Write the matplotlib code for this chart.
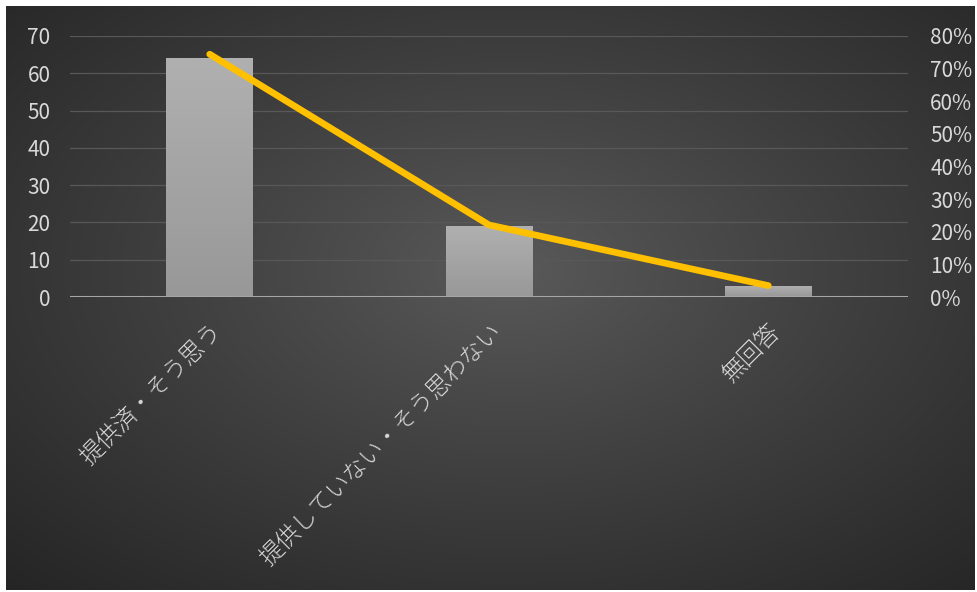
import numpy as np
import matplotlib
matplotlib.use("Agg")
import matplotlib.pyplot as plt

plt.rcParams['font.family'] = ['Noto Sans CJK JP', 'DejaVu Sans']

categories = ["提供済・そう思う", "提供していない・そう思わない", "無回答"]
counts = [64, 19, 3]
shares = [c / sum(counts) for c in counts]

left_ticks = list(range(0, 71, 10))
right_ticks = [i / 10 for i in range(0, 9)]

text_color = "#d9d9d9"
line_color = "#FFC000"

fig = plt.figure(figsize=(9.77, 5.92), dpi=100, facecolor="white")

# dark radial backdrop for the chart area
bg = fig.add_axes([6 / 977, 2 / 592, 969 / 977, 584 / 592])
bg.set_axis_off()
ny, nx = 300, 500
yy, xx = np.mgrid[0:ny, 0:nx]
cx, cy = 0.52 * nx, 0.45 * ny
r = np.sqrt(((xx - cx) / nx) ** 2 + ((yy - cy) / ny) ** 2)
r = r / r.max()
inner = np.array([0x5a, 0x5a, 0x5a]) / 255
outer = np.array([0x25, 0x25, 0x25]) / 255
t = np.clip(r ** 0.9, 0, 1)[..., None]
img = inner * (1 - t) + outer * t
bg.imshow(img, aspect="auto", extent=[0, 1, 0, 1], origin="upper")
bg.set_xlim(0, 1)
bg.set_ylim(0, 1)

ax = fig.add_axes([70 / 977, (592 - 297) / 592, (908 - 70) / 977, (297 - 36) / 592])
ax.patch.set_alpha(0)
x = np.arange(len(categories))

ax.set_yticks(left_ticks)
for v in left_ticks[1:]:
    ax.axhline(v, color="#585858", lw=0.9, zorder=0)
ax.axhline(0, color="#a6a6a6", lw=2.2, zorder=3)

bars = ax.bar(x, counts, width=0.31, color="#a6a6a6", zorder=2)
grad = np.linspace(0, 1, 100)[:, None]
gcol = np.array([0xb0, 0xb0, 0xb0]) / 255 * (1 - grad[..., None]) + np.array([0x98, 0x98, 0x98]) / 255 * grad[..., None]
for b in bars:
    x0, y0, w, h = b.get_x(), b.get_y(), b.get_width(), b.get_height()
    im = ax.imshow(np.repeat(gcol, 2, axis=1), aspect="auto",
                   extent=[x0, x0 + w, y0, y0 + h], origin="upper", zorder=2)
    im.set_clip_path(b)
ax.set_xlim(-0.5, len(categories) - 0.5)
ax.set_ylim(0, 70)

for s in ax.spines.values():
    s.set_visible(False)
ax.tick_params(axis="both", length=0, colors=text_color)
ax.tick_params(axis="y", labelsize=15, pad=14)
ax.set_xticks(x)
ax.set_xticklabels(categories, rotation=45, ha="right", va="top",
                   rotation_mode="anchor", fontsize=17, color=text_color)
ax.tick_params(axis="x", pad=16)
for lbl in ax.get_xticklabels():
    lbl.set_fontweight("light")

ax2 = ax.twinx()
ax2.set_ylim(0, 0.8)
ax2.set_yticks(right_ticks)
ax2.set_yticklabels([f"{int(round(v * 100))}%" for v in right_ticks])
ax2.tick_params(axis="y", length=0, colors=text_color, labelsize=15, pad=16)
for s in ax2.spines.values():
    s.set_visible(False)
ax2.plot(x, shares, color=line_color, lw=4.8, solid_capstyle="round",
         solid_joinstyle="round", zorder=5)

fig.savefig("out.png", dpi=100, facecolor=fig.get_facecolor())
